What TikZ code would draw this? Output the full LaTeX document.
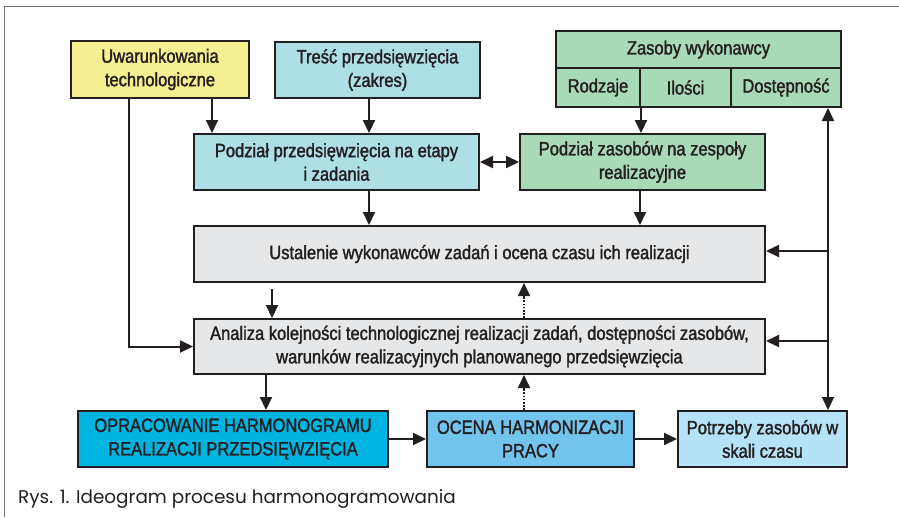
\documentclass[tikz,border=0pt]{standalone}
\usepackage{fontspec}
\setmainfont{Liberation Sans}
\newfontfamily\boxfont[FakeStretch=0.86,FakeBold=1.6]{Liberation Sans}
\newfontfamily\capfont{Poppins}
\usetikzlibrary{arrows.meta}
\definecolor{ink}{HTML}{231F20}
\definecolor{cyel}{HTML}{F4EF90}
\definecolor{ccyan}{HTML}{ADDFE5}
\definecolor{cgreen}{HTML}{A8D9B8}
\definecolor{cgray}{HTML}{E6E7E8}
\definecolor{cop}{HTML}{00B4E1}
\definecolor{coc}{HTML}{72C4EC}
\definecolor{cpo}{HTML}{B5E2F7}
\tikzset{
  bx/.style={draw=ink, line width=2pt, text=ink, align=center, inner sep=0pt,
    font=\boxfont\fontsize{19.2}{23.5}\selectfont},
  arr/.style={draw=ink, line width=2pt, -{Triangle[length=13pt,width=12pt]}},
  darr/.style={draw=ink, line width=2pt, {Triangle[length=13pt,width=12pt]}-{Triangle[length=13pt,width=12pt]}},
  dotarr/.style={draw=ink, line width=1.7pt, dash pattern=on 1.6pt off 1.6pt, -{Triangle[length=13pt,width=12pt]}}
}
\begin{document}
\begin{tikzpicture}[x=1pt,y=-1pt]
\useasboundingbox (0,0) rectangle (899,517);
\draw[color=black!55, line width=1.5pt] (4.5,517) -- (4.5,6.5) -- (899,6.5);

\node[bx, fill=cyel, minimum width=178pt, minimum height=57pt] (uw) at (160,69.5) {Uwarunkowania\\technologiczne};
\node[bx, fill=ccyan, minimum width=205pt, minimum height=56pt] (tr) at (377.5,70) {Treść przedsięwzięcia\\(zakres)};
\node[bx, fill=ccyan, minimum width=285pt, minimum height=56pt] (pp) at (336.5,162) {Podział przedsięwzięcia na etapy\\i zadania};
\node[bx, fill=cgreen, minimum width=245pt, minimum height=56pt] (pz) at (642.5,162) {Podział zasobów na zespoły\\realizacyjne};
\node[bx, fill=cgreen, minimum width=285pt, minimum height=37pt] (zw) at (698.5,49.5) {Zasoby wykonawcy};
\node[bx, fill=cgreen, minimum width=84pt, minimum height=39pt] (ro) at (598,87.5) {Rodzaje};
\node[bx, fill=cgreen, minimum width=91pt, minimum height=39pt] (il) at (685.5,87.5) {Ilości};
\node[bx, fill=cgreen, minimum width=110pt, minimum height=39pt] (do) at (786,87.5) {Dostępność};
\node[bx, fill=cgray, minimum width=571pt, minimum height=56pt] (us) at (479.5,254) {Ustalenie wykonawców zadań i ocena czasu ich realizacji};
\node[bx, fill=cgray, minimum width=571pt, minimum height=55pt] (an) at (479.5,346.5) {Analiza kolejności technologicznej realizacji zadań, dostępności zasobów,\\warunków realizacyjnych planowanego przedsięwzięcia};
\node[bx, fill=cop, minimum width=310pt, minimum height=56pt] (op) at (233,439) {OPRACOWANIE HARMONOGRAMU\\REALIZACJI PRZEDSIĘWZIĘCIA};
\node[bx, fill=coc, minimum width=207pt, minimum height=56pt] (oc) at (530.5,439) {OCENA HARMONIZACJI\\PRACY};
\node[bx, fill=cpo, minimum width=169pt, minimum height=56pt] (po) at (762.5,439) {Potrzeby zasobów w\\skali czasu};

\node[anchor=west, inner sep=0pt, text=ink, font=\capfont\fontsize{18.4}{20}\selectfont] (cap) at (18,499) {Rys. 1. Ideogram procesu harmonogramowania};

\coordinate (x129) at (129,0);
\coordinate (x212) at (212,0);
\coordinate (x266) at (266,0);
\coordinate (x369) at (369,0);
\coordinate (x524) at (524,0);
\coordinate (x640) at (640,0);
\coordinate (x828) at (828,0);
\coordinate (b1) at (828,251);
\coordinate (b2) at (828,341);
\coordinate (g1) at (272,289);

\draw[arr] (uw.south -| x212) -- (pp.north -| x212);
\draw[arr] (uw.south -| x129) |- (an.west);
\draw[arr] (tr.south -| x369) -- (pp.north -| x369);
\draw[darr] (pp.east) -- (pz.west);
\draw[arr] (ro.south east) -- (ro.south east |- pz.north);
\draw[arr] (pp.south -| x369) -- (us.north -| x369);
\draw[arr] (pz.south -| x640) -- (us.north -| x640);
\draw[darr] (do.south -| x828) -- (po.north -| x828);
\draw[arr] (b1) -- (b1 -| us.east);
\draw[arr] (b2) -- (b2 -| an.east);
\draw[arr] (g1) -- (g1 |- an.north);
\draw[dotarr] (an.north -| x524) -- (us.south -| x524);
\draw[dotarr] (oc.north -| x524) -- (an.south -| x524);
\draw[arr] (an.south -| x266) -- (op.north -| x266);
\draw[arr] (op.east) -- (oc.west);
\draw[arr] (oc.east) -- (po.west);
\end{tikzpicture}
\end{document}
